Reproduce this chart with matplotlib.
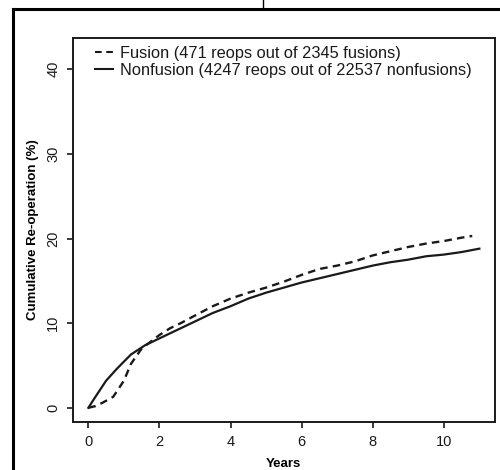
"""Cumulative re-operation rate, fusion vs nonfusion."""

import matplotlib

matplotlib.use("Agg")
import matplotlib.pyplot as plt
from matplotlib.lines import Line2D

# Fusion group (dashed)
fusion_years = [0, 0.2, 0.4, 0.7, 1.0, 1.2, 1.5, 1.75, 2.0, 2.3, 2.6, 3.0, 3.5,
                4.0, 4.5, 5.0, 5.5, 6.0, 6.5, 7.0, 7.5, 8.0, 8.5, 9.0, 9.5,
                10.0, 10.5, 10.8]
fusion_pct = [0, 0.2, 0.6, 1.3, 3.2, 5.2, 7.0, 7.8, 8.6, 9.4, 10.0, 10.9, 12.0,
              12.9, 13.6, 14.2, 14.9, 15.7, 16.4, 16.8, 17.3, 18.0, 18.5, 19.0,
              19.4, 19.7, 20.1, 20.3]

# Nonfusion group (solid)
nonfusion_years = [0, 0.2, 0.5, 0.8, 1.2, 1.6, 2.0, 2.5, 3.0, 3.5, 4.0, 4.5,
                   5.0, 5.5, 6.0, 6.5, 7.0, 7.5, 8.0, 8.5, 9.0, 9.5, 10.0,
                   10.5, 11.0]
nonfusion_pct = [0, 1.3, 3.2, 4.6, 6.3, 7.4, 8.2, 9.2, 10.2, 11.2, 12.0, 12.9,
                 13.6, 14.2, 14.8, 15.3, 15.8, 16.3, 16.8, 17.2, 17.5, 17.9,
                 18.1, 18.4, 18.8]

labels = ["Fusion (471 reops out of 2345 fusions)",
          "Nonfusion (4247 reops out of 22537 nonfusions)"]

x_ticks = [0, 2, 4, 6, 8, 10]
y_ticks = [0, 10, 20, 30, 40]

INK = "#1a1a1a"
DASH = (0, (3.2, 2.2))

plt.rcParams["font.family"] = ["Liberation Sans", "DejaVu Sans"]

fig = plt.figure(figsize=(5.0, 4.7), dpi=100)
ax = fig.add_axes([0.1454, 0.1021, 0.8446, 0.8169])

ax.plot(fusion_years, fusion_pct, color=INK, lw=1.7, linestyle=DASH)
ax.plot(nonfusion_years, nonfusion_pct, color=INK, lw=1.6)

ax.set_xlim(-0.44, 11.44)
ax.set_ylim(-1.68, 43.68)
ax.set_xticks(x_ticks)
ax.set_yticks(y_ticks)
ax.tick_params(direction="out", length=4, width=1.2, labelsize=10.5, pad=5,
               colors=INK)
for lab in ax.get_yticklabels():
    lab.set_rotation(90)
    lab.set_va("center")
for sp in ax.spines.values():
    sp.set_linewidth(1.4)
    sp.set_color(INK)

ax.set_xlabel("Years", fontsize=9.5, fontweight="bold", labelpad=7)
ax.set_ylabel("Cumulative Re-operation (%)", fontsize=9.5, fontweight="bold",
              labelpad=5)

handles = [Line2D([], [], color=INK, lw=1.5, linestyle=DASH),
           Line2D([], [], color=INK, lw=1.5)]
ax.legend(handles, labels, loc="upper left", bbox_to_anchor=(0.052, 0.979),
          frameon=False, fontsize=11.8, handlelength=1.1, handletextpad=0.45,
          labelspacing=0.12, borderaxespad=0, borderpad=0, labelcolor=INK)

# outer frame of the page crop
fig.add_artist(Line2D([0.0254, 1.0], [0.981, 0.981], color="black", lw=2.2,
                      transform=fig.transFigure))
fig.add_artist(Line2D([0.0254, 0.0254], [0.0, 0.981], color="black", lw=2.2,
                      transform=fig.transFigure))
fig.add_artist(Line2D([0.526, 0.526], [0.981, 1.0], color="black", lw=1.0,
                      transform=fig.transFigure))

fig.savefig("out.png", dpi=100)
